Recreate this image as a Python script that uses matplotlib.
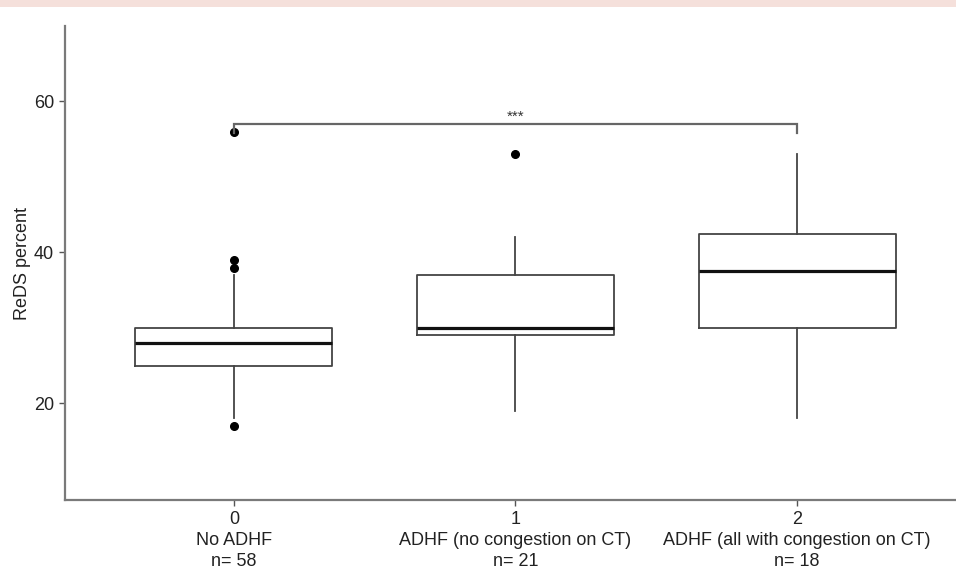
import matplotlib
matplotlib.use("Agg")
import matplotlib.pyplot as plt
from matplotlib.patches import Rectangle

plt.rcParams['font.family'] = ['Liberation Sans', 'DejaVu Sans']

# ---- data ----
categories = ["0", "1", "2"]
group_names = ["No ADHF", "ADHF (no congestion on CT)", "ADHF (all with congestion on CT)"]
group_n = [58, 21, 18]
q1 = [25, 29, 30]
medians = [28, 30, 37.5]
q3 = [30, 37, 42.5]
whisker_low = [18, 19, 18]
whisker_high = [37, 42, 53]
outliers = [[17, 38, 39, 56], [53], []]
bracket_groups = (0, 2)
bracket_y = 57
bracket_tip_y = 55.8
bracket_label = "***"
y_label = "ReDS percent"
y_ticks = [20, 40, 60]

W, H = 956, 571
fig = plt.figure(figsize=(W / 100, H / 100), dpi=100)
fig.patch.set_facecolor("white")

# pink strip at top
fig.patches.append(Rectangle((0, 1 - 7 / H), 1, 7 / H, transform=fig.transFigure,
                             facecolor="#f5e0db", edgecolor="none", zorder=0))

ax = fig.add_axes([65 / W, 71 / H, (966 - 65) / W, (500 - 26) / H])

stats = []
for i in range(len(categories)):
    stats.append(dict(med=medians[i], q1=q1[i], q3=q3[i],
                      whislo=whisker_low[i], whishi=whisker_high[i],
                      fliers=outliers[i], label=categories[i]))

positions = list(range(len(categories)))
box_col = "#444444"
ax.bxp(stats, positions=positions, widths=0.7, showcaps=False, patch_artist=False,
       boxprops=dict(color=box_col, linewidth=1.3),
       whiskerprops=dict(color=box_col, linewidth=1.3),
       medianprops=dict(color="#111111", linewidth=2.3),
       flierprops=dict(marker="o", markerfacecolor="black", markeredgecolor="black",
                       markersize=5.5, linestyle="none"))

# significance bracket
x0, x1 = bracket_groups
ax.plot([x0, x0, x1, x1], [bracket_tip_y, bracket_y, bracket_y, bracket_tip_y],
        color="#666666", linewidth=1.6, solid_joinstyle="miter", clip_on=False)
ax.text((x0 + x1) / 2, bracket_y + 0.1, bracket_label, ha="center", va="bottom",
        fontsize=11, color="#333333")

ax.set_xlim(-0.6, 2.6)
ax.set_ylim(7.2, 70.0)
ax.set_yticks(y_ticks)
ax.set_yticklabels([str(t) for t in y_ticks])
ax.set_xticks(positions)
ax.set_xticklabels([f"{c}\n{g}\nn= {n}" for c, g, n in zip(categories, group_names, group_n)],
                   linespacing=1.3)

for s in ["top", "right"]:
    ax.spines[s].set_visible(False)
for s in ["left", "bottom"]:
    ax.spines[s].set_color("#7a7a7a")
    ax.spines[s].set_linewidth(1.6)

ax.tick_params(axis="both", colors="#555555", length=4, width=1.0,
               labelsize=13, labelcolor="#222222")
ax.tick_params(axis="x", pad=4)
ax.tick_params(axis="y", pad=4)
ax.set_ylabel(y_label, fontsize=13, color="#222222", labelpad=2)

fig.savefig("out.png", dpi=100)
